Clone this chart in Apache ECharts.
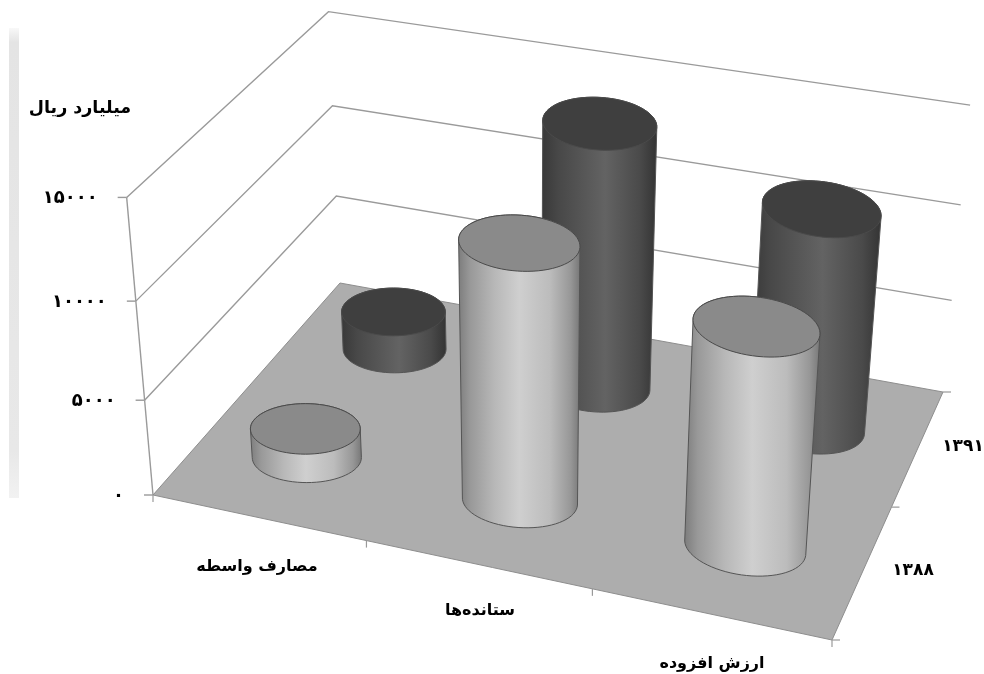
<!DOCTYPE html>
<html><head><meta charset="utf-8">
<style>html,body{margin:0;padding:0;background:#fff}#c{width:984px;height:674px}</style>
<script src="https://cdn.jsdelivr.net/npm/echarts@6/dist/echarts.min.js"></script>
</head><body><div id="c"></div>
<script>
var categories = ['مصارف واسطه', 'ستانده‌ها', 'ارزش افزوده'];
var years = ['۱۳۸۸', '۱۳۹۱'];
var values1388 = [1550, 13050, 11050];
var values1391 = [2100, 13900, 11400];
var valueTicks = [0, 5000, 10000, 15000];
var valueTickLabels = ['۰', '۵۰۰۰', '۱۰۰۰۰', '۱۵۰۰۰'];
var axisTitle = 'میلیارد ریال';

/* projection calibration: where the unit box corners fall on the page */
var VMAX = 15000;
var floorCorners = [[0,0,153,495],[1,0,832,640],[1,1,943,392],[0,1,340,283]];
var topCorners = [[0,0,125,196],[0,1,330,13],[1,1,970,105]];

function solve(A, b) {
  var n = b.length, M = A.map(function (r, i) { return r.concat([b[i]]); });
  for (var i = 0; i < n; i++) {
    var p = i;
    for (var r = i + 1; r < n; r++) if (Math.abs(M[r][i]) > Math.abs(M[p][i])) p = r;
    var t = M[i]; M[i] = M[p]; M[p] = t;
    for (var r2 = 0; r2 < n; r2++) {
      if (r2 === i) continue;
      var f = M[r2][i] / M[i][i];
      for (var c = i; c <= n; c++) M[r2][c] -= f * M[i][c];
    }
  }
  return M.map(function (r, i) { return r[n] / r[i]; });
}
var A8 = [], b8 = [];
floorCorners.forEach(function (q) {
  A8.push([q[0], q[1], 1, 0, 0, 0, -q[2]*q[0], -q[2]*q[1]]); b8.push(q[2]);
  A8.push([0, 0, 0, q[0], q[1], 1, -q[3]*q[0], -q[3]*q[1]]); b8.push(q[3]);
});
var H = solve(A8, b8);
function hx(u, v) { return H[0]*u + H[1]*v + H[2]; }
function hy(u, v) { return H[3]*u + H[4]*v + H[5]; }
function hw(u, v) { return H[6]*u + H[7]*v + 1; }
var rows = [], rhs = [];
topCorners.forEach(function (q) {
  var w = hw(q[0], q[1]);
  rows.push([1, 0, -q[2]]); rhs.push(q[2]*w - hx(q[0], q[1]));
  rows.push([0, 1, -q[3]]); rhs.push(q[3]*w - hy(q[0], q[1]));
});
var N = [0,1,2].map(function (i) { return [0,1,2].map(function (j) {
  return rows.reduce(function (s, r) { return s + r[i]*r[j]; }, 0); }); });
var Nb = [0,1,2].map(function (i) { return rows.reduce(function (s, r, k) { return s + r[i]*rhs[k]; }, 0); });
var Z = solve(N, Nb);
function project(u, v, value) {
  var h = value / VMAX;
  var w = hw(u, v) + Z[2]*h;
  return [(hx(u, v) + Z[0]*h) / w, (hy(u, v) + Z[1]*h) / w];
}

var LINE = '#9a9a9a';
var RU = 0.086, FLATTEN = 0.46;

function hull(pts) {
  var p = pts.slice().sort(function (a, b) { return a[0]-b[0] || a[1]-b[1]; });
  function cross(o, a, b) { return (a[0]-o[0])*(b[1]-o[1]) - (a[1]-o[1])*(b[0]-o[0]); }
  var lo = [], up = [];
  p.forEach(function (q) { while (lo.length > 1 && cross(lo[lo.length-2], lo[lo.length-1], q) <= 0) lo.pop(); lo.push(q); });
  p.reverse().forEach(function (q) { while (up.length > 1 && cross(up[up.length-2], up[up.length-1], q) <= 0) up.pop(); up.push(q); });
  lo.pop(); up.pop();
  return lo.concat(up);
}
function gradient(stops) {
  return { type: 'linear', x: 0, y: 0, x2: 1, y2: 0, colorStops: stops.map(function (s) { return { offset: s[0], color: s[1] }; }) };
}
var lightBody = gradient([[0,'#7c7c7c'],[0.1,'#999999'],[0.3,'#b8b8b8'],[0.5,'#cfcfcf'],[0.75,'#bcbcbc'],[0.92,'#979797'],[1,'#767676']]);
var darkBody = gradient([[0,'#383838'],[0.15,'#484848'],[0.55,'#636363'],[0.85,'#4a4a4a'],[1,'#333333']]);

function disc(u, v, val) {
  var c = project(u, v, val);
  var l = project(u - RU, v, val), r = project(u + RU, v, val);
  var rx = Math.sqrt(Math.pow(r[0]-l[0], 2) + Math.pow(r[1]-l[1], 2)) / 2;
  var ry = rx * FLATTEN;
  var tilt = Math.max(0, u - 1/6) * 12 * Math.PI / 180;
  var pts = [];
  for (var k = 0; k < 72; k++) {
    var a = k / 72 * Math.PI * 2;
    var ex = rx * Math.cos(a), ey = ry * Math.sin(a);
    pts.push([c[0] + ex*Math.cos(tilt) - ey*Math.sin(tilt), c[1] + ex*Math.sin(tilt) + ey*Math.cos(tilt)]);
  }
  return pts;
}

function cylinderSeries(name, values, v, body, cap) {
  return {
    type: 'custom', name: name, coordinateSystem: 'cartesian2d', silent: true,
    data: values.map(function (val, i) { return [categories[i], val]; }),
    encode: { x: 0, y: 1 },
    renderItem: function (params, api) {
      var rect = params.coordSys;
      var c = api.coord([api.value(0), api.value(1)]);
      var u = (c[0] - rect.x) / rect.width;
      var h = (rect.y + rect.height - c[1]) / rect.height * VMAX;
      var base = disc(u, v, 0), top = disc(u, v, h);
      return { type: 'group', children: [
        { type: 'polygon', shape: { points: hull(base.concat(top)) },
          style: { fill: body, stroke: '#555555', lineWidth: 1 } },
        { type: 'polygon', shape: { points: top },
          style: { fill: cap, stroke: '#4a4a4a', lineWidth: 1 } }
      ] };
    }
  };
}

var floorSeries = {
  type: 'custom', silent: true, coordinateSystem: 'cartesian2d', data: [[categories[0], 0]],
  renderItem: function () {
    var pts = [[0,0],[1,0],[1,1],[0,1]].map(function (p) { return project(p[0], p[1], 0); });
    var style = { stroke: LINE, lineWidth: 1.2, fill: null };
    var kids = [{ type: 'polygon', shape: { points: pts }, style: { fill: '#adadad', stroke: '#8e8e8e', lineWidth: 1 } }];
    [0, 1/3, 2/3, 1].forEach(function (u) {
      var a = project(u, 0, 0);
      kids.push({ type: 'line', shape: { x1: a[0], y1: a[1], x2: a[0], y2: a[1] + 7 }, style: style });
    });
    [0, 0.5, 1].forEach(function (v) {
      var a = project(1, v, 0);
      kids.push({ type: 'line', shape: { x1: a[0], y1: a[1], x2: a[0] + 8, y2: a[1] }, style: style });
    });
    return { type: 'group', children: kids };
  }
};

var wallSeries = {
  type: 'custom', silent: true, coordinateSystem: 'cartesian2d',
  data: valueTicks.map(function (t) { return [categories[0], t]; }),
  renderItem: function (params, api) {
    var rect = params.coordSys;
    var c = api.coord([0, api.value(1)]);
    var h = (rect.y + rect.height - c[1]) / rect.height * VMAX;
    var style = { stroke: LINE, lineWidth: 1.4, fill: null };
    var a = project(0, 0, h), kids = [];
    kids.push({ type: 'line', shape: { x1: a[0] - 9, y1: a[1], x2: a[0], y2: a[1] }, style: style });
    if (h > 0) {
      kids.push({ type: 'polyline', shape: { points: [a, project(0, 1, h), project(1, 1, h)] }, style: style });
    }
    if (h < VMAX) {
      var n = project(0, 0, h + 5000);
      kids.push({ type: 'line', shape: { x1: a[0], y1: a[1], x2: n[0], y2: n[1] }, style: style });
    }
    return { type: 'group', children: kids };
  }
};

var FONT = '"DejaVu Sans"';
function label(text, x, y, size, align) {
  return { type: 'text', x: x, y: y, silent: true, z: 20,
    style: { text: text, fontFamily: FONT, fontWeight: 'bold', fontSize: size, fill: '#000',
      textAlign: align || 'center', textVerticalAlign: 'middle' } };
}
var categoryAnchors = [[257, 567], [480, 611], [712, 664]];
var yearAnchors = [[913, 571], [963, 447]];
var texts = [
  { type: 'rect', silent: true, z: 0, shape: { x: 9, y: 28, width: 10, height: 470 },
    style: { fill: { type: 'linear', x: 0, y: 0, x2: 0, y2: 1, colorStops: [
      { offset: 0, color: '#f8f8f8' }, { offset: 0.03, color: '#e4e4e4' }, { offset: 0.9, color: '#e8e8e8' }, { offset: 1, color: '#f2f2f2' }] } } },
  label(axisTitle, 80, 108, 17.5)
];
valueTickLabels.forEach(function (t, i) {
  var a = project(0, 0, valueTicks[i]);
  texts.push(label(t, a[0] - 29, a[1] + 1, 18, 'right'));
});
categories.forEach(function (t, i) { texts.push(label(t, categoryAnchors[i][0], categoryAnchors[i][1], 16)); });
years.forEach(function (t, i) { texts.push(label(t, yearAnchors[i][0], yearAnchors[i][1], 17)); });

var chart = echarts.init(document.getElementById('c'));
chart.setOption({
  animation: false,
  backgroundColor: '#ffffff',
  grid: { left: 0, right: 0, top: 0, bottom: 0 },
  xAxis: { type: 'category', data: categories, show: false, boundaryGap: true },
  yAxis: { type: 'value', min: 0, max: VMAX, interval: 5000, show: false },
  tooltip: { show: false },
  graphic: texts,
  series: [
    wallSeries, floorSeries,
    cylinderSeries(years[1], values1391, 0.75, darkBody, '#3f3f3f'),
    cylinderSeries(years[0], values1388, 0.25, lightBody, '#8a8a8a')
  ]
});
</script></body></html>
